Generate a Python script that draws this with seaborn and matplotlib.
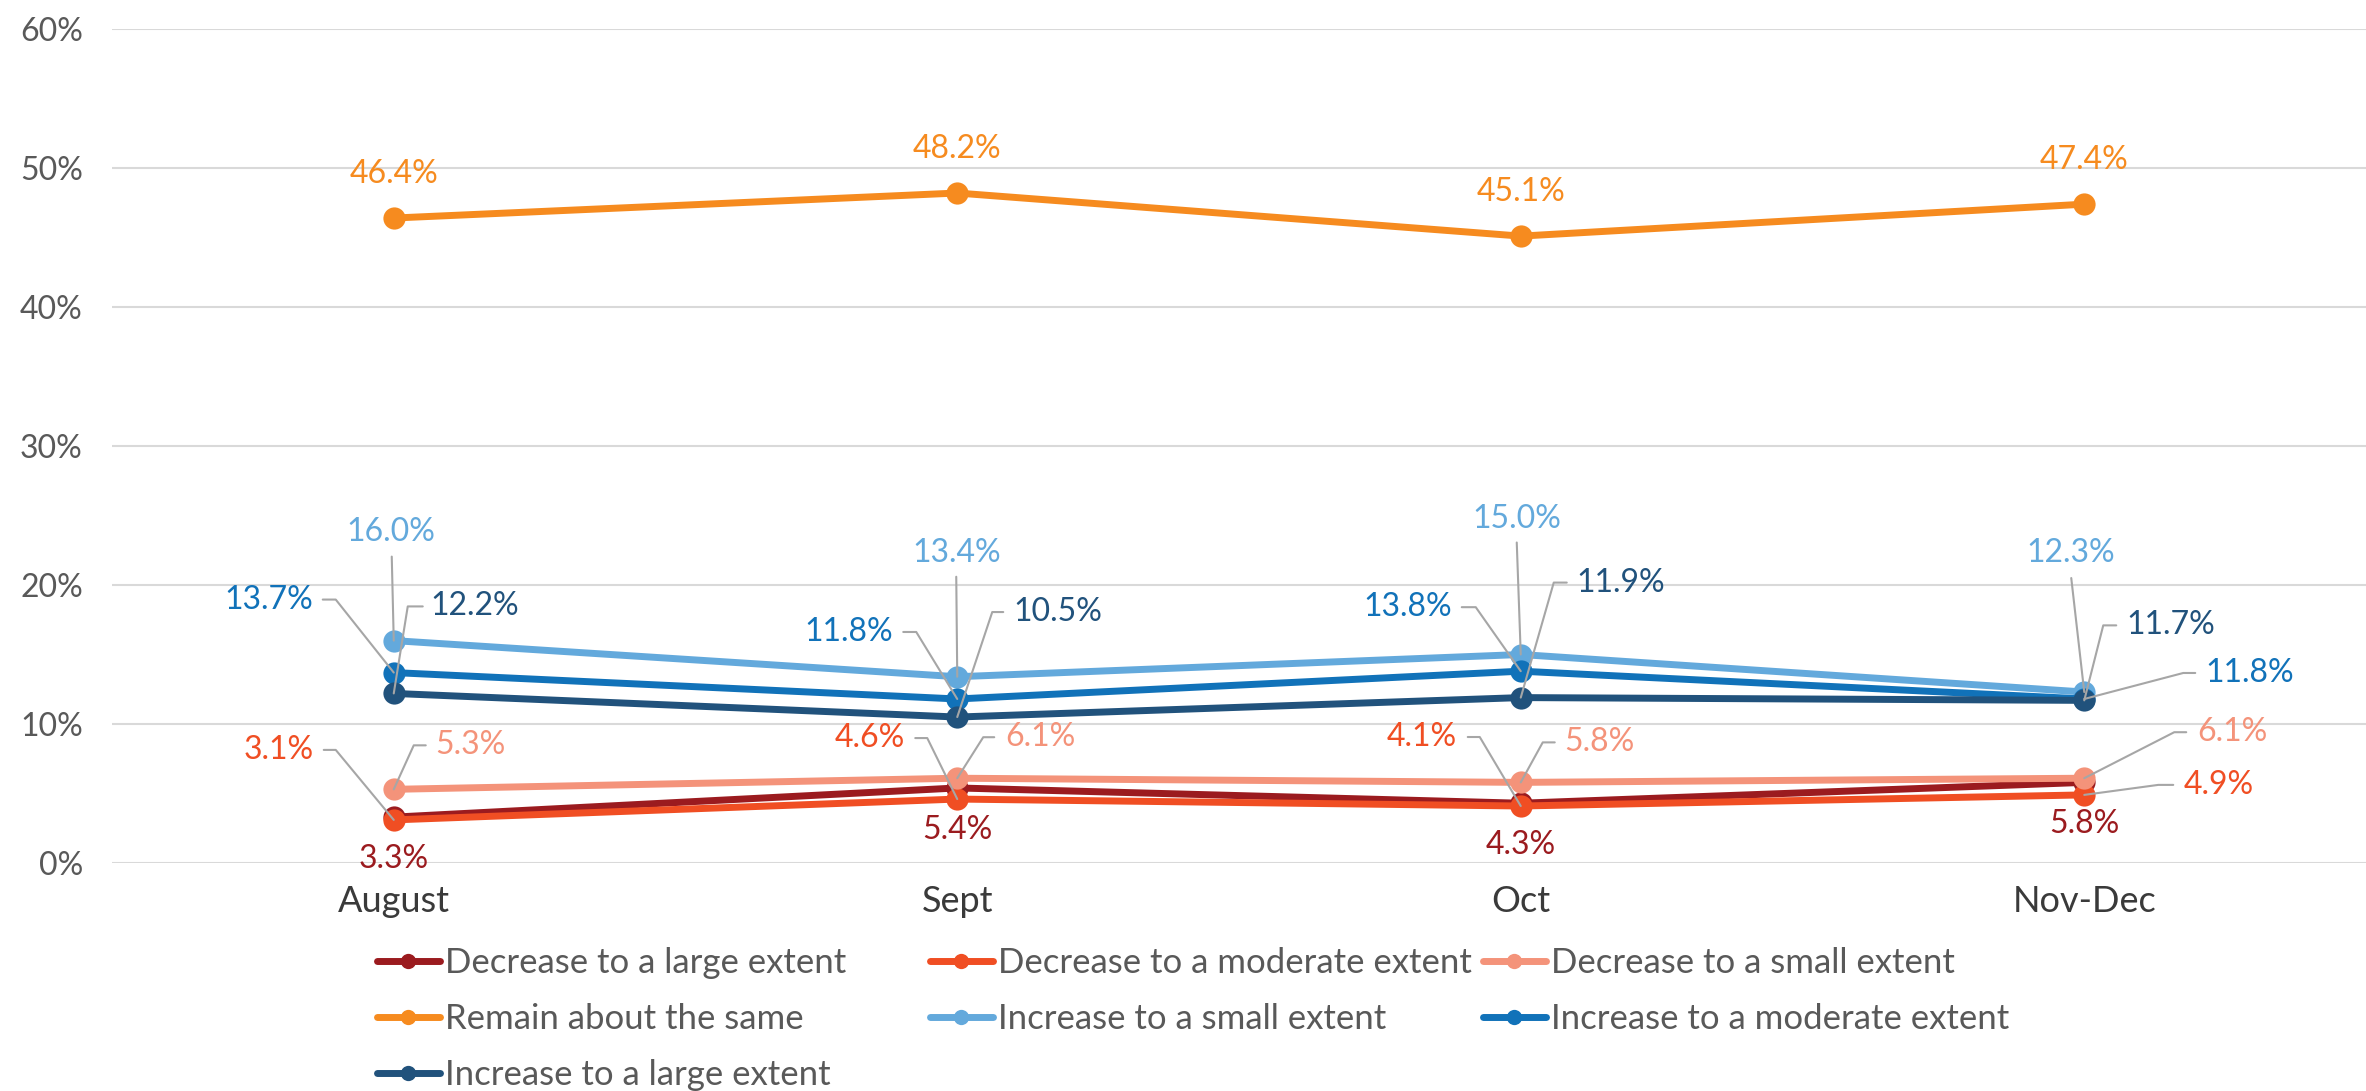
import matplotlib
matplotlib.use("Agg")
import matplotlib.pyplot as plt
import matplotlib.transforms as mtransforms
from matplotlib.lines import Line2D
import pandas as pd
import seaborn as sns

# data (percent)
months = ["August", "Sept", "Oct", "Nov-Dec"]
series = [
    "Decrease to a large extent",
    "Decrease to a moderate extent",
    "Decrease to a small extent",
    "Remain about the same",
    "Increase to a small extent",
    "Increase to a moderate extent",
    "Increase to a large extent",
]
dec_large = [3.3, 5.4, 4.3, 5.8]
dec_moderate = [3.1, 4.6, 4.1, 4.9]
dec_small = [5.3, 6.1, 5.8, 6.1]
remain_same = [46.4, 48.2, 45.1, 47.4]
inc_small = [16.0, 13.4, 15.0, 12.3]
inc_moderate = [13.7, 11.8, 13.8, 11.8]
inc_large = [12.2, 10.5, 11.9, 11.7]
values = [dec_large, dec_moderate, dec_small, remain_same, inc_small, inc_moderate, inc_large]

colors = ["#9B1B1F", "#F04E23", "#F4937A", "#F68B1F", "#63A9DC", "#1172B9", "#21527C"]
palette = dict(zip(series, colors))

rows = []
for name, vals in zip(series, values):
    for i, v in enumerate(vals):
        rows.append({"series": name, "idx": i, "value": v})
df = pd.DataFrame(rows)

# label placement in pixels relative to each point: (dx, dy, ha, leader)
lab_pos = {
    "Decrease to a large extent": [(0, -42, "center", None)] * 4,
    "Decrease to a moderate extent": [
        (-80, 70, "right", [(0, 0), (-58, 70), (-70, 70)]),
        (-52, 61, "right", [(0, 0), (-30, 61), (-42, 61)]),
        (-64, 69, "right", [(0, 0), (-41, 69), (-53, 69)]),
        (99, 10, "left", [(0, 0), (74, 10), (89, 10)]),
    ],
    "Decrease to a small extent": [
        (42, 44, "left", [(0, 0), (20, 44), (32, 44)]),
        (48, 41, "left", [(0, 0), (26, 41), (37, 41)]),
        (44, 40, "left", [(0, 0), (22, 40), (34, 40)]),
        (113, 46, "left", [(0, 0), (90, 46), (102, 46)]),
    ],
    "Remain about the same": [(0, 44, "center", None)] * 4,
    "Increase to a small extent": [
        (-3, 109, "center", [(0, 0), (-2, 84)]),
        (-1, 124, "center", [(0, 0), (-1, 100)]),
        (-4, 136, "center", [(0, 0), (-4, 112)]),
        (-14, 139, "center", [(0, 0), (-13, 114)]),
    ],
    "Increase to a moderate extent": [
        (-81, 73, "right", [(0, 0), (-58, 73), (-71, 73)]),
        (-64, 67, "right", [(0, 0), (-41, 67), (-54, 67)]),
        (-69, 64, "right", [(0, 0), (-45, 64), (-59, 64)]),
        (121, 26, "left", [(0, 0), (99, 26), (111, 26)]),
    ],
    "Increase to a large extent": [
        (37, 87, "left", [(0, 0), (14, 87), (29, 87)]),
        (56, 105, "left", [(0, 0), (35, 105), (46, 105)]),
        (56, 115, "left", [(0, 0), (33, 115), (46, 115)]),
        (42, 75, "left", [(0, 0), (19, 75), (32, 75)]),
    ],
}

sns.set_theme(style="white")
plt.rcParams["font.family"] = ["Lato", "DejaVu Sans"]

W, H = 2366, 1091
fig = plt.figure(figsize=(W / 100, H / 100), dpi=100)
ax = fig.add_axes([112 / W, 228 / H, 1 - 112 / W, 834 / H])

sns.lineplot(data=df, x="idx", y="value", hue="series", hue_order=series,
             palette=palette, marker="o", markersize=16, markeredgewidth=0,
             linewidth=5, sort=False, errorbar=None, legend=False, ax=ax)

ax.set_xlim(-0.5, 3.5)
ax.set_ylim(0, 60)
ax.set_xticks(range(len(months)))
ax.set_xticklabels(months)
ax.set_yticks(range(0, 61, 10))
ax.set_yticklabels([f"{t}%" for t in range(0, 61, 10)])
ax.set_xlabel("")
ax.set_ylabel("")
ax.tick_params(axis="y", length=0, pad=21, labelsize=23, labelcolor="#595959")
ax.tick_params(axis="x", length=0, pad=16, labelsize=26, labelcolor="#3A3A3A")
ax.yaxis.grid(True, color="#D9D9D9", linewidth=1.5)
ax.xaxis.grid(False)
ax.set_axisbelow(True)
sns.despine(ax=ax, left=True, bottom=True)

# data labels with leader lines
for name, vals in zip(series, values):
    for i, v in enumerate(vals):
        dx, dy, ha, leader = lab_pos[name][i]
        trans = mtransforms.ScaledTranslation(i, v, ax.transData)
        ax.text(dx, dy, f"{v:.1f}%", transform=trans, ha=ha, va="center",
                fontsize=23, color=palette[name], zorder=6)
        if leader:
            xs = [p[0] for p in leader]
            ys = [p[1] for p in leader]
            ax.add_line(Line2D(xs, ys, transform=trans, color="#A6A6A6",
                               linewidth=1.5, zorder=5, clip_on=False))

# legend laid out in three fixed-width columns
legend_slots = [(0, 0), (1, 0), (2, 0), (0, 1), (1, 1), (2, 1), (0, 2)]
for name, (col, row) in zip(series, legend_slots):
    h = Line2D([], [], color=palette[name], linewidth=5, marker="o", markersize=11,
               markeredgewidth=0, solid_capstyle="round")
    x = 377 + 553 * col
    y = 963 + 56 * row
    fig.legend(handles=[h], labels=[name], loc="center left",
               bbox_to_anchor=(x / W, 1 - y / H), frameon=False, borderpad=0,
               borderaxespad=0, handlelength=1.81, handletextpad=0.15,
               fontsize=25, labelcolor="#595959")

fig.savefig("out.png", dpi=100)
